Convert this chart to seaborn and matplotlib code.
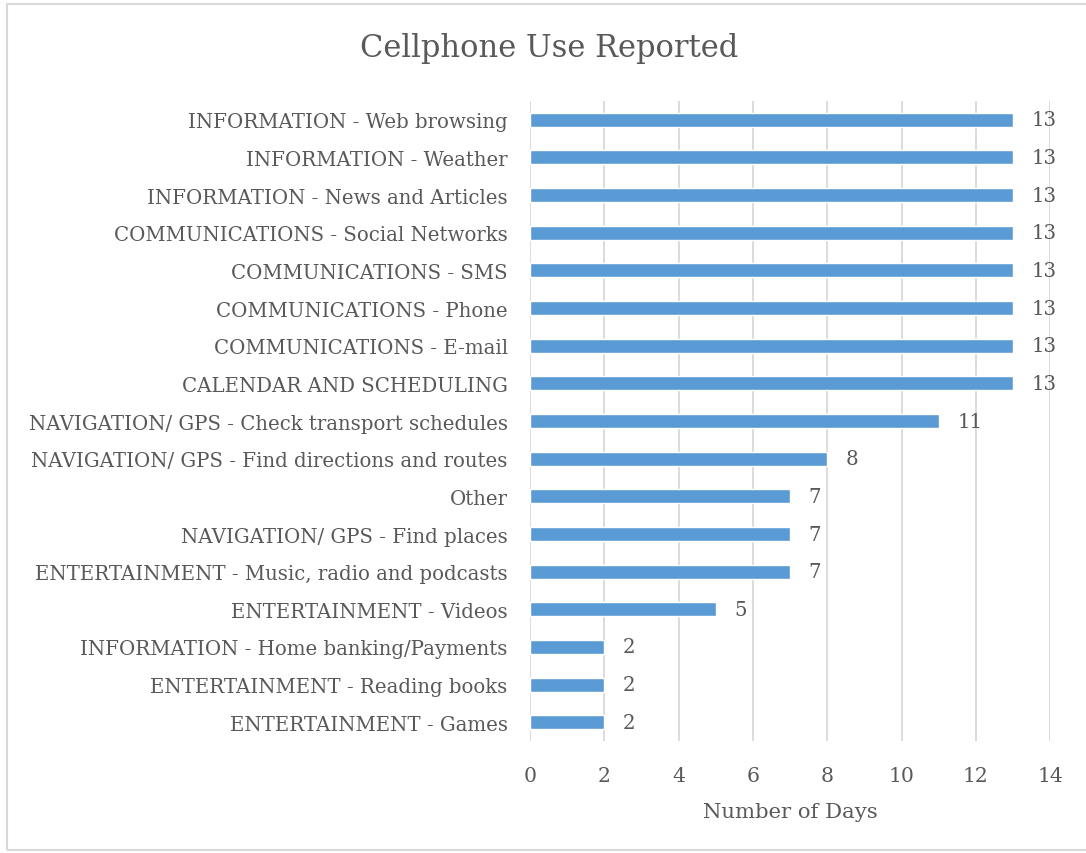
import matplotlib
matplotlib.use("Agg")
import matplotlib.pyplot as plt
import seaborn as sns
import pandas as pd
from matplotlib.patches import Rectangle

categories = [
    "INFORMATION - Web browsing",
    "INFORMATION - Weather",
    "INFORMATION - News and Articles",
    "COMMUNICATIONS - Social Networks",
    "COMMUNICATIONS - SMS",
    "COMMUNICATIONS - Phone",
    "COMMUNICATIONS - E-mail",
    "CALENDAR AND SCHEDULING",
    "NAVIGATION/ GPS - Check transport schedules",
    "NAVIGATION/ GPS - Find directions and routes",
    "Other",
    "NAVIGATION/ GPS - Find places",
    "ENTERTAINMENT - Music, radio and podcasts",
    "ENTERTAINMENT - Videos",
    "INFORMATION - Home banking/Payments",
    "ENTERTAINMENT - Reading books",
    "ENTERTAINMENT - Games",
]
days = [13, 13, 13, 13, 13, 13, 13, 13, 11, 8, 7, 7, 7, 5, 2, 2, 2]
x_ticks = [0, 2, 4, 6, 8, 10, 12, 14]

df = pd.DataFrame({"category": categories, "days": days})

sns.set_theme(style="white")
plt.rcParams["font.family"] = ["DejaVu Serif", "Liberation Serif"]

TEXT = "#595959"
GRID = "#D9D9D9"
BAR = "#5B9BD5"
FS = 14.2

fig = plt.figure(figsize=(10.86, 8.54), dpi=100)
ax = fig.add_axes([0.488, 0.131, 0.479, 0.7496])

sns.barplot(data=df, y="category", x="days", orient="h", color=BAR,
            width=0.37, saturation=1, ax=ax, zorder=3)

ax.set_xlim(0, 14)
ax.set_xticks(x_ticks)
ax.set_xticklabels([str(t) for t in x_ticks])
ax.set_ylim(len(categories) - 0.5, -0.5)
ax.grid(axis="x", color=GRID, linewidth=1.3, zorder=0)
ax.grid(axis="y", visible=False)
for s in ax.spines.values():
    s.set_visible(False)
ax.tick_params(axis="both", length=0, colors=TEXT, labelsize=FS)
ax.tick_params(axis="x", pad=18, labelsize=FS + 0.5)
ax.tick_params(axis="y", pad=16)
ax.set_ylabel("")
ax.set_xlabel("Number of Days", fontsize=FS + 1, color=TEXT, labelpad=12)

for container in ax.containers:
    ax.bar_label(container, labels=[str(v) for v in days], padding=13.5,
                 fontsize=FS, color=TEXT)

fig.text(0.506, 0.943, "Cellphone Use Reported", ha="center", va="center",
         fontsize=22, color=TEXT)

fig.patches.append(Rectangle((0.0065, 0.004), 1.2, 0.99, transform=fig.transFigure,
                             fill=False, edgecolor=GRID, linewidth=1.5))

fig.savefig("out.png", dpi=100)
